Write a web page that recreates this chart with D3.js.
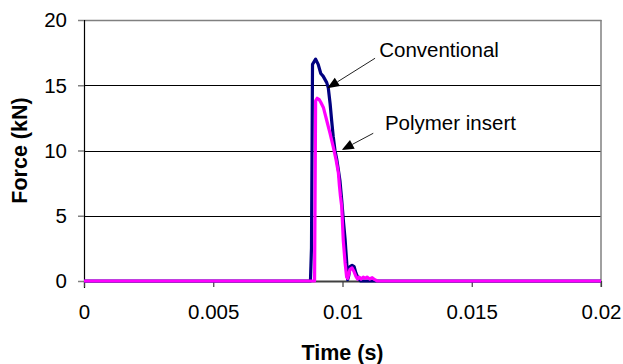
<!DOCTYPE html>
<html>
<head>
<meta charset="utf-8">
<script src="https://cdn.jsdelivr.net/npm/d3@7"></script>
<style>
  html, body { margin: 0; padding: 0; background: #fff; }
  svg { display: block; }
  text { font-family: "Liberation Sans", Arial, sans-serif; fill: #000; }
</style>
</head>
<body>
<svg id="chart" width="623" height="364"></svg>
<script>
// ---- Data ----
const xTicks = [0, 0.005, 0.01, 0.015, 0.02];
const xTickLabels = ["0", "0.005", "0.01", "0.015", "0.02"];
const yTicks = [0, 5, 10, 15, 20];
const yTickLabels = ["0", "5", "10", "15", "20"];

const conventionalTime = [0, 0.00876, 0.00880, 0.00884, 0.00896, 0.00906, 0.00916, 0.00925, 0.00939, 0.00945,
  0.00952, 0.00958, 0.00964, 0.00971, 0.00978, 0.00984, 0.00990, 0.00997, 0.01004, 0.01010,
  0.01016, 0.01020, 0.01024, 0.01029, 0.01037, 0.01045, 0.01052, 0.01061, 0.01070, 0.02];
const conventionalForce = [0, 0, 2.5, 16.6, 17.0, 16.6, 15.9, 15.7, 15.2, 14.8,
  13.6, 12.3, 11.1, 10.0, 9.3, 8.5, 7.7, 6.2, 4.5, 3.2,
  1.5, 0.1, 0.4, 1.1, 1.2, 1.1, 0.6, 0.2, 0, 0];

const polymerTime = [0, 0.00892, 0.00896, 0.00902, 0.00910, 0.00916, 0.00926, 0.00939, 0.00952, 0.00964,
  0.00975, 0.00984, 0.00988, 0.00992, 0.00997, 0.01003, 0.01010, 0.01016, 0.01020, 0.01029,
  0.01037, 0.01045, 0.01052, 0.01058, 0.01065, 0.01072, 0.01080, 0.01088, 0.01095, 0.01105,
  0.01115, 0.01125, 0.01135, 0.02];
const polymerForce = [0, 0, 13.8, 14.0, 13.9, 13.7, 13.3, 12.3, 11.3, 10.3,
  9.3, 8.3, 7.3, 6.5, 5.7, 3.1, 1.4, 0.3, 0.2, 0.9,
  1.0, 0.7, 0.35, 0.15, 0.3, 0.15, 0.3, 0.2, 0.3, 0.15,
  0.25, 0.1, 0, 0];

const seriesNames = ["Conventional", "Polymer insert"];
const seriesColors = ["#000080", "#FF00FF"];
// annotation arrows: [label x, label y, tail x, tail y, tip x, tip y] in data units
const annotConventional = [0.01142, 17.2, 0.01126, 17.07, 0.00941, 14.77];
const annotPolymer = [0.01164, 11.57, 0.01119, 11.32, 0.00997, 10.04];

// ---- Layout ----
const svg = d3.select("#chart");
const m = { left: 84, right: 601, top: 20, bottom: 281 };
const x = d3.scaleLinear().domain([0, 0.02]).range([m.left, m.right]);
const y = d3.scaleLinear().domain([0, 20]).range([m.bottom, m.top]);
const FS = 20.5;

// gridlines
svg.append("g").selectAll("line").data(yTicks.filter(v => v > 0 && v < 20)).join("line")
  .attr("x1", m.left).attr("x2", m.right)
  .attr("y1", d => Math.round(y(d)) + 0.5).attr("y2", d => Math.round(y(d)) + 0.5)
  .attr("stroke", "#000").attr("stroke-width", 1);

// plot border (top, right) grey
svg.append("line").attr("x1", m.left).attr("x2", m.right + 0.5)
  .attr("y1", y(20) + 0.5).attr("y2", y(20) + 0.5).attr("stroke", "#808080").attr("stroke-width", 1.5);
svg.append("line").attr("x1", m.right).attr("x2", m.right)
  .attr("y1", m.top).attr("y2", m.bottom + 6).attr("stroke", "#808080").attr("stroke-width", 1.5);

// y axis
const yAxis = d3.axisLeft(y).tickValues(yTicks).tickFormat((d, i) => yTickLabels[i]).tickSize(6).tickPadding(11);
const gy = svg.append("g").attr("transform", `translate(${m.left},0)`).call(yAxis);
gy.select(".domain").attr("stroke", "#000").attr("stroke-width", 1.2).attr("d", `M0.5,${m.top}V${m.bottom + 7}`);
gy.selectAll(".tick line").attr("stroke", "#808080").attr("stroke-width", 1.5);
gy.selectAll(".tick text").attr("font-size", FS).attr("font-family", "Liberation Sans, Arial, sans-serif").attr("dy", "0.34em");

// x axis
const xAxis = d3.axisBottom(x).tickValues(xTicks).tickFormat((d, i) => xTickLabels[i]).tickSize(6).tickPadding(17);
const gx = svg.append("g").attr("transform", `translate(0,${m.bottom})`).call(xAxis);
gx.select(".domain").attr("stroke", "#404040").attr("stroke-width", 2).attr("d", `M${m.left},0.5H${m.right}`);
gx.selectAll(".tick line").attr("stroke", "#404040").attr("stroke-width", 1.2);
gx.selectAll(".tick text").attr("font-size", FS).attr("font-family", "Liberation Sans, Arial, sans-serif").attr("dy", "0.71em");

// series lines
const line = d3.line().x(d => x(d[0])).y(d => y(d[1]));
const convData = conventionalTime.map((t, i) => [t, conventionalForce[i]]);
const polyData = polymerTime.map((t, i) => [t, polymerForce[i]]);
svg.append("path").datum(convData).attr("d", line).attr("fill", "none")
  .attr("stroke", seriesColors[0]).attr("stroke-width", 3.2).attr("stroke-linejoin", "round");
svg.append("path").datum(polyData).attr("d", line).attr("fill", "none")
  .attr("stroke", seriesColors[1]).attr("stroke-width", 3.2).attr("stroke-linejoin", "round");

// annotations
function annotate(a, label) {
  const [lx, ly, tx, ty, px, py] = a;
  const x1 = x(tx), y1 = y(ty), x2 = x(px), y2 = y(py);
  const ang = Math.atan2(y2 - y1, x2 - x1);
  const L = 12, W = 5;
  const bx = x2 - L * Math.cos(ang), by = y2 - L * Math.sin(ang);
  svg.append("line").attr("x1", x1).attr("y1", y1).attr("x2", bx).attr("y2", by)
    .attr("stroke", "#222").attr("stroke-width", 1);
  const p1 = [bx + W * Math.sin(ang), by - W * Math.cos(ang)];
  const p2 = [bx - W * Math.sin(ang), by + W * Math.cos(ang)];
  svg.append("path").attr("d", `M${x2},${y2}L${p1[0]},${p1[1]}L${p2[0]},${p2[1]}Z`).attr("fill", "#000");
  svg.append("text").attr("x", x(lx)).attr("y", y(ly)).attr("font-size", FS).text(label);
}
annotate(annotConventional, seriesNames[0]);
annotate(annotPolymer, seriesNames[1]);

// axis titles
svg.append("text").attr("x", (m.left + m.right) / 2).attr("y", 360)
  .attr("text-anchor", "middle").attr("font-size", 21.5).attr("font-weight", "bold").text("Time (s)");
svg.append("text").attr("transform", `translate(26.5,${(m.top + m.bottom) / 2}) rotate(-90)`)
  .attr("text-anchor", "middle").attr("font-size", 21.5).attr("font-weight", "bold").text("Force (kN)");
</script>
</body>
</html>
